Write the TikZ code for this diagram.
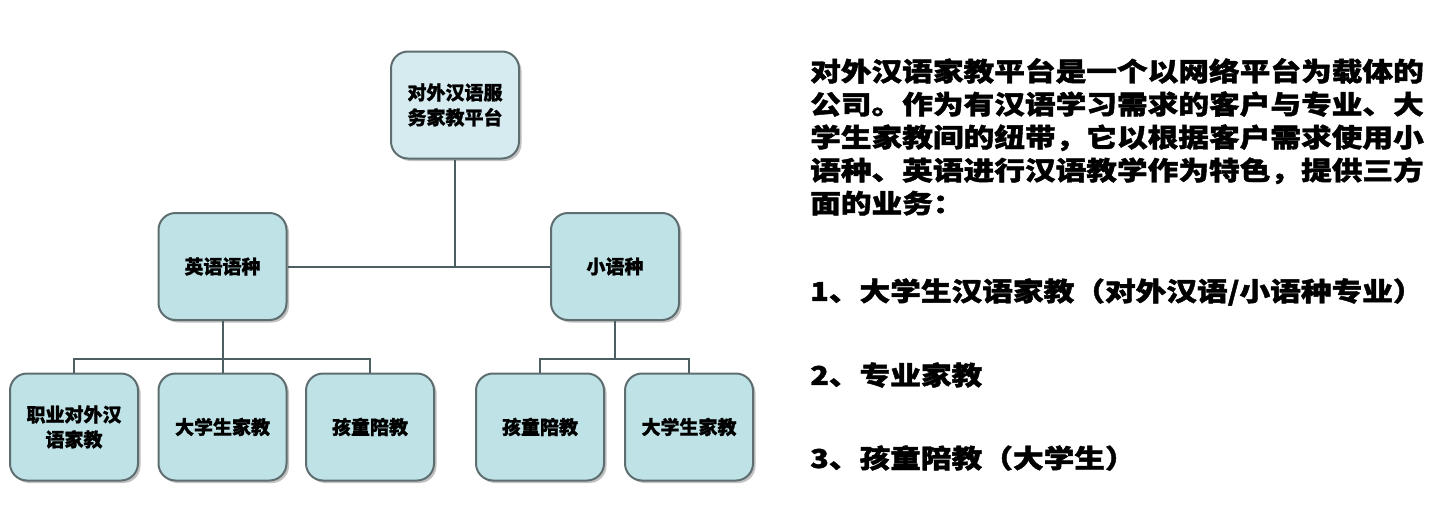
\documentclass[tikz,border=0pt]{standalone}
\usepackage{fontspec}
\newfontfamily\cjk{Noto Sans CJK SC}[BoldFeatures={FakeBold=1}]
\newfontfamily\cjkwide{Noto Sans CJK SC}[FakeStretch=1.18, BoldFeatures={FakeBold=1.6}]
\usetikzlibrary{shadows}
\definecolor{boxline}{HTML}{5E6E70}
\definecolor{linkline}{HTML}{4D5F63}
\definecolor{topfill}{HTML}{D5EBF0}
\definecolor{boxfill}{HTML}{BEE2E5}
\tikzset{
  orgbox/.style = {draw=boxline, line width=2pt, fill=boxfill, rounded corners=17pt,
    minimum width=128pt, minimum height=107pt, inner sep=0pt, align=center,
    font=\cjk\bfseries\fontsize{19}{25}\selectfont,
    drop shadow={shadow xshift=2.5pt, shadow yshift=-2.5pt, fill=black!40, opacity=.6}},
  link/.style = {draw=linkline, line width=2pt},
  listtext/.style = {inner sep=0pt, font=\cjkwide\bfseries\fontsize{26}{33}\selectfont}
}
\begin{document}
\begin{tikzpicture}[x=1pt, y=-1pt]
\useasboundingbox (0,0) rectangle (1445,514);

% tree
\node [orgbox, fill=topfill] (top) at (455,105) {对外汉语服\\务家教平台};
\node [orgbox] (eng)   at (222.5,266.5) {英语语种};
\node [orgbox] (minor) at (615,266.5) {小语种};

\node [orgbox] (e1) at (74,427)    {职业对外汉\\语家教};
\node [orgbox] (e2) at (222.5,427) {大学生家教};
\node [orgbox] (e3) at (370,427)   {孩童陪教};
\node [orgbox] (m1) at (540,427)   {孩童陪教};
\node [orgbox] (m2) at (689,427)   {大学生家教};

\draw [link] (top.south) -- (top.south |- eng.east);
\draw [link] (eng.east) -- (minor.west);
\draw [link] (eng.south) -- (e2.north);
\draw [link] (e1.north) -- ++(0,-14) -| (e3.north);
\draw [link] (minor.south) -- ++(0,39);
\draw [link] (m1.north) -- ++(0,-14) -| (m2.north);

% text on the right
\node [listtext, anchor=north west, align=left] (intro) at (810,58)
  {对外汉语家教平台是一个以网络平台为载体的\\
   公司。作为有汉语学习需求的客户与专业、大\\
   学生家教间的纽带，它以根据客户需求使用小\\
   语种、英语进行汉语教学作为特色，提供三方\\
   面的业务：};
\node [listtext, anchor=west] (item1) at (810,292) {1、大学生汉语家教（对外汉语/小语种专业）};
\node [listtext, anchor=west] (item2) at (810,375) {2、专业家教};
\node [listtext, anchor=west] (item3) at (810,458) {3、孩童陪教（大学生）};
\end{tikzpicture}
\end{document}
